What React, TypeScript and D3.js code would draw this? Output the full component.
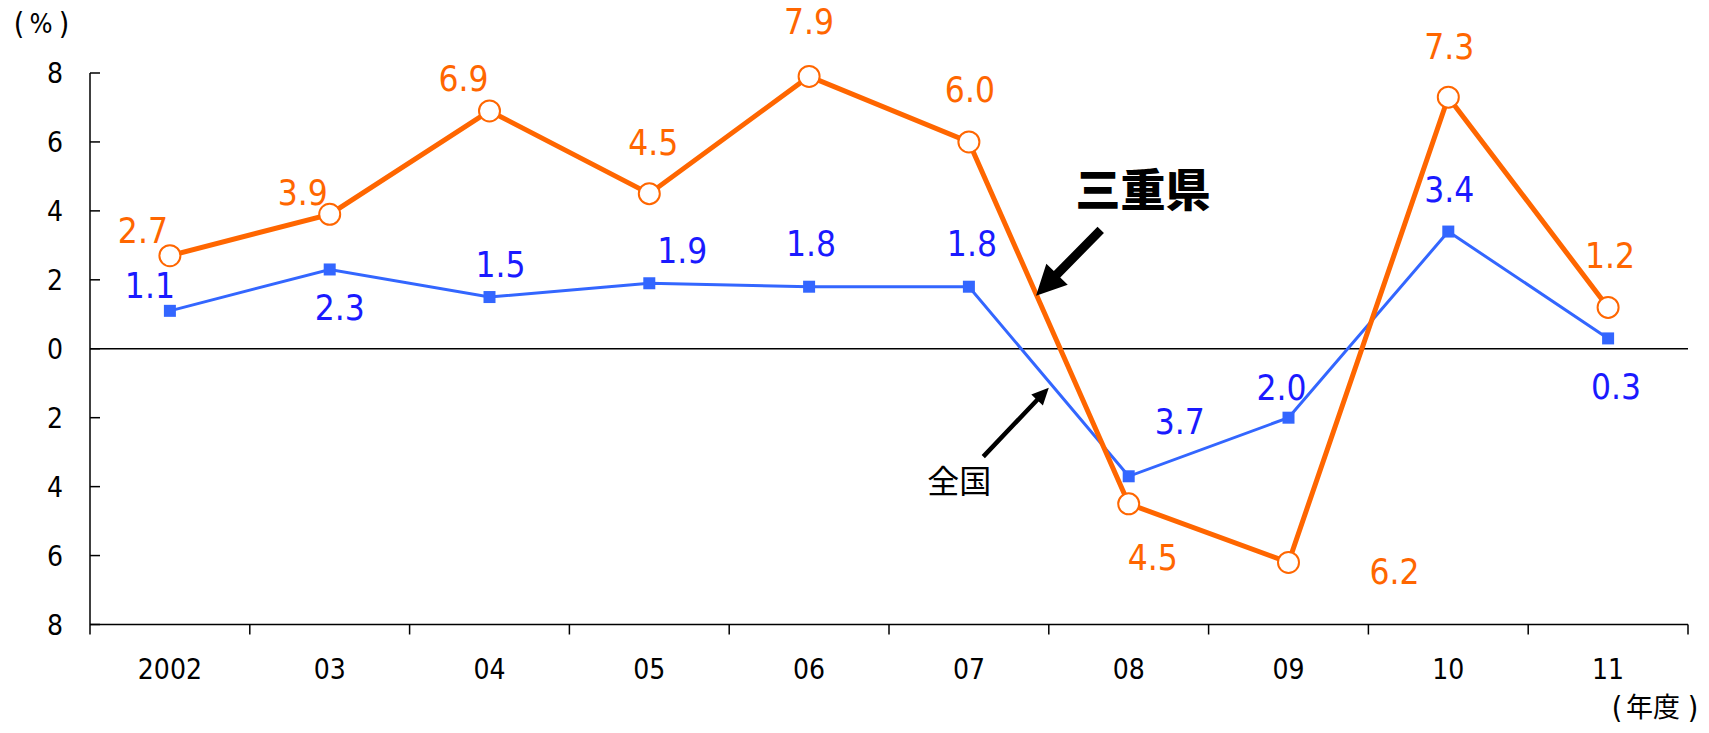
import React from "react";
import * as d3 from "d3";

const categories = ["2002", "03", "04", "05", "06", "07", "08", "09", "10", "11"];
const mieValues = [2.7, 3.9, 6.9, 4.5, 7.9, 6.0, -4.5, -6.2, 7.3, 1.2];
const nationalValues = [1.1, 2.3, 1.5, 1.9, 1.8, 1.8, -3.7, -2.0, 3.4, 0.3];
const yTicks = [8, 6, 4, 2, 0, -2, -4, -6, -8];

// label placement (layout, pixel offsets from the point)
const mieLabelOffsets: [number, number][] = [
  [-27, -25], [-27, -22], [-26, -33], [4, -51], [0, -55],
  [1, -53], [24, 54], [106, 9], [1, -51], [2, -52],
];
const natLabelOffsets: [number, number][] = [
  [-20, -25], [10, 38], [11, -33], [33, -33], [2, -43],
  [3, -43], [51, -55], [-7, -30], [1, -42], [8, 48],
];

const W = 1709;
const H = 733;
const LEFT = 90;
const RIGHT = 1688;
const TOP = 73;
const BOTTOM = 624.5;

const ORANGE = "#ff6600";
const BLUE_LINE = "#3366ff";
const BLUE_TEXT = "#1a1aff";
const NUM_FONT = "'Liberation Sans Narrow', 'DejaVu Sans Condensed', 'Roboto Condensed', sans-serif";
const CJK_FONT = "'Noto Sans CJK JP', 'Noto Sans', sans-serif";

function arrowPath(x1: number, y1: number, x2: number, y2: number, shaft: number, headLen: number, headW: number) {
  const dx = x2 - x1, dy = y2 - y1;
  const len = Math.hypot(dx, dy);
  const ux = dx / len, uy = dy / len;
  const px = -uy, py = ux;
  const bx = x2 - ux * headLen, by = y2 - uy * headLen;
  const pts = [
    [x1 + px * shaft / 2, y1 + py * shaft / 2],
    [bx + px * shaft / 2, by + py * shaft / 2],
    [bx + px * headW / 2, by + py * headW / 2],
    [x2, y2],
    [bx - px * headW / 2, by - py * headW / 2],
    [bx - px * shaft / 2, by - py * shaft / 2],
    [x1 - px * shaft / 2, y1 - py * shaft / 2],
  ];
  return "M" + pts.map((p) => p.join(",")).join("L") + "Z";
}

export default function App() {
  const x = d3.scaleBand<string>().domain(categories).range([LEFT, RIGHT]);
  const y = d3.scaleLinear().domain([-8, 8]).range([BOTTOM, TOP]);
  const bw = x.bandwidth();
  const cx = (i: number) => (x(categories[i]) as number) + bw / 2;
  const xAt = (pos: number) => LEFT + bw * (pos + 0.5);

  const line = d3
    .line<number>()
    .x((_, i) => cx(i))
    .y((d) => y(d));

  const fmt = (v: number) => Math.abs(v).toFixed(1);
  const labelFs = 35;

  const boundaries = d3.range(1, categories.length + 1).map((i) => LEFT + bw * i);

  const mieArrow = arrowPath(xAt(5.825), y(3.45), xAt(5.42), y(1.54), 9, 30, 30);
  const natArrow = arrowPath(xAt(5.09), y(-3.13), xAt(5.5), y(-1.13), 4.5, 17, 16);

  return (
    <svg
      width={W}
      height={H}
      style={{ position: "absolute", left: 0, top: 0, background: "#fff" }}
    >
      {/* axes */}
      <line x1={LEFT} x2={LEFT} y1={TOP} y2={BOTTOM + 10} stroke="#000" strokeWidth={1.5} />
      <line x1={LEFT} x2={RIGHT} y1={BOTTOM} y2={BOTTOM} stroke="#000" strokeWidth={1.5} />
      <line x1={LEFT} x2={RIGHT} y1={y(0)} y2={y(0)} stroke="#000" strokeWidth={1.5} />
      {yTicks.map((t) => (
        <g key={"yt" + t}>
          <line x1={LEFT} x2={LEFT + 10} y1={y(t)} y2={y(t)} stroke="#000" strokeWidth={1.5} />
          <text
            x={63}
            y={y(t) + 10}
            textAnchor="end"
            fontFamily={NUM_FONT}
            fontSize={28}
            fill="#000"
          >
            {Math.abs(t)}
          </text>
        </g>
      ))}
      {boundaries.map((b, i) => (
        <line key={"xt" + i} x1={b} x2={b} y1={BOTTOM} y2={BOTTOM + 10} stroke="#000" strokeWidth={1.5} />
      ))}
      {categories.map((c, i) => (
        <text
          key={"xl" + c}
          x={cx(i)}
          y={679}
          textAnchor="middle"
          fontFamily={NUM_FONT}
          fontSize={28}
          fill="#000"
        >
          {c}
        </text>
      ))}
      <g fontFamily={NUM_FONT} fill="#000">
        <text x={19} y={34} textAnchor="middle" fontSize={30}>(</text>
        <text x={41} y={33} textAnchor="middle" fontSize={27}>%</text>
        <text x={64} y={34} textAnchor="middle" fontSize={30}>)</text>
      </g>
      <g fill="#000">
        <text x={1617} y={718} textAnchor="middle" fontFamily={NUM_FONT} fontSize={30}>(</text>
        <text x={1653} y={717} textAnchor="middle" fontFamily={CJK_FONT} fontSize={27}>年度</text>
        <text x={1693} y={718} textAnchor="middle" fontFamily={NUM_FONT} fontSize={30}>)</text>
      </g>

      {/* national */}
      <path d={line(nationalValues) || ""} fill="none" stroke={BLUE_LINE} strokeWidth={3} />
      {nationalValues.map((v, i) => (
        <rect key={"nm" + i} x={cx(i) - 6} y={y(v) - 6} width={12} height={12} fill={BLUE_LINE} />
      ))}

      {/* Mie */}
      <path d={line(mieValues) || ""} fill="none" stroke={ORANGE} strokeWidth={5} />
      {mieValues.map((v, i) => (
        <circle key={"mm" + i} cx={cx(i)} cy={y(v)} r={10.5} fill="#fff" stroke={ORANGE} strokeWidth={2} />
      ))}

      {/* labels */}
      {mieValues.map((v, i) => (
        <text
          key={"ml" + i}
          x={cx(i) + mieLabelOffsets[i][0]}
          y={y(v) + mieLabelOffsets[i][1] + labelFs * 0.36}
          textAnchor="middle"
          fontFamily={NUM_FONT}
          fontSize={labelFs}
          fill={ORANGE}
        >
          {fmt(v)}
        </text>
      ))}
      {nationalValues.map((v, i) => (
        <text
          key={"nl" + i}
          x={cx(i) + natLabelOffsets[i][0]}
          y={y(v) + natLabelOffsets[i][1] + labelFs * 0.36}
          textAnchor="middle"
          fontFamily={NUM_FONT}
          fontSize={labelFs}
          fill={BLUE_TEXT}
        >
          {fmt(v)}
        </text>
      ))}

      {/* annotations */}
      <path d={mieArrow} fill="#000" />
      <path d={natArrow} fill="#000" />
      <text
        x={xAt(6.09)}
        y={y(4.55) + 15}
        textAnchor="middle"
        fontFamily={CJK_FONT}
        fontWeight={900}
        fontSize={45}
        fill="#000"
      >
        三重県
      </text>
      <text
        x={xAt(4.94)}
        y={y(-3.84) + 12}
        textAnchor="middle"
        fontFamily={CJK_FONT}
        fontSize={32}
        fill="#000"
      >
        全国
      </text>
    </svg>
  );
}
